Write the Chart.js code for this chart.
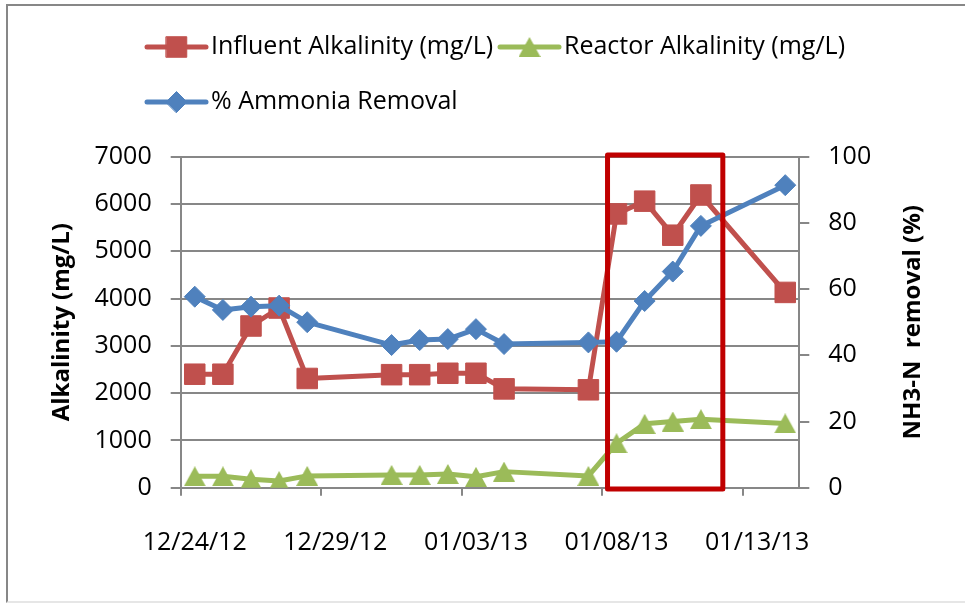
<!DOCTYPE html>
<html>
<head>
<meta charset="utf-8">
<script src="https://cdn.jsdelivr.net/npm/chart.js@4.4.1/dist/chart.umd.min.js"></script>
<style>
html, body { margin:0; padding:0; background:#fff; overflow:hidden; }
#frame { position:absolute; left:6px; top:4px; width:1000px; height:595px; border:2px solid #878787; border-bottom-color:#e6e6e6; }
#wrap { position:absolute; left:0; top:0; width:965px; height:604px; }
</style>
</head>
<body>
<div id="frame"></div>
<div id="wrap"><canvas id="chart1"></canvas></div>
<script>
// one category per day on the date axis
var dayLabels = ['12/24/12','12/25/12','12/26/12','12/27/12','12/28/12','12/29/12','12/30/12','12/31/12',
                 '01/01/13','01/02/13','01/03/13','01/04/13','01/05/13','01/06/13','01/07/13','01/08/13',
                 '01/09/13','01/10/13','01/11/13','01/12/13','01/13/13','01/14/13'];
var dateTickEvery = 5;

// sampling days
var sampleDates = ['12/24/12','12/25/12','12/26/12','12/27/12','12/28/12','12/31/12','01/01/13','01/02/13',
                   '01/03/13','01/04/13','01/07/13','01/08/13','01/09/13','01/10/13','01/11/13','01/14/13'];
var influentAlk    = [2400, 2400, 3420, 3800, 2310, 2390, 2390, 2420, 2420, 2090, 2070, 5790, 6060, 5340, 6190, 4130];
var reactorAlk     = [240, 240, 180, 140, 250, 270, 270, 290, 230, 340, 250, 940, 1350, 1400, 1450, 1360];
var ammoniaRemoval = [57.7, 53.7, 54.7, 55.0, 50.0, 43.1, 44.6, 44.9, 47.9, 43.4, 43.9, 44.1, 56.4, 65.3, 79.1, 91.4];

// axis ranges
var alkAxis = {min: 0, max: 7000, step: 1000};
var pctAxis = {min: 0, max: 100, step: 20};

// red highlight box (day index / mg/L)
var highlightBox = {from: 14.68, to: 18.78, low: -30, high: 7035};

var RED = '#C0504D', GREEN = '#9BBB59', BLUE = '#4F81BD';
var axisGray = '#878787';
var FONT = "'Open Sans', 'Noto Sans', sans-serif";

Chart.defaults.font.family = FONT;
Chart.defaults.color = '#000';

function make_points(values)
{
    var pts = [];
    for (var i = 0; i < sampleDates.length; i++)
    {
        pts.push({x: sampleDates[i], y: values[i]});
    }
    return pts;
}

function triangle_marker(color, w, h)
{
    var c = document.createElement('canvas');
    c.width = w;
    c.height = h;
    var g = c.getContext('2d');
    g.fillStyle = color;
    g.beginPath();
    g.moveTo(w / 2, 0);
    g.lineTo(w, h);
    g.lineTo(0, h);
    g.closePath();
    g.fill();
    return c;
}

function series(label, values, color, axis, style, radius)
{
    return {
        label: label,
        data: make_points(values),
        yAxisID: axis,
        borderColor: color,
        backgroundColor: color,
        borderWidth: 5,
        borderJoinStyle: 'round',
        borderCapStyle: 'round',
        tension: 0,
        pointStyle: style,
        pointRadius: radius,
        pointHoverRadius: radius,
        pointBorderWidth: 1,
        pointBorderColor: color,
        pointBackgroundColor: color
    };
}

var triMark = triangle_marker(GREEN, 22, 20);

// blue drawn on top, then green, then red
var datasets = [
    series('% Ammonia Removal', ammoniaRemoval, BLUE, 'y2', 'rectRot', 10.5),
    series('Reactor Alkalinity (mg/L)', reactorAlk, GREEN, 'y', triMark, 11),
    series('Influent Alkalinity (mg/L)', influentAlk, RED, 'y', 'rect', 14.5)
];

// legend laid out like the Excel one
var legendPos = [
    {ds: 2, x: 147, y: 47},
    {ds: 1, x: 500, y: 47},
    {ds: 0, x: 147, y: 102}
];

var legendPlugin = {
    id: 'excelLegend',
    afterDraw: function (chart)
    {
        var ctx = chart.ctx;
        ctx.save();
        for (var i = 0; i < legendPos.length; i++)
        {
            var it = legendPos[i];
            var ds = chart.data.datasets[it.ds];
            ctx.strokeStyle = ds.borderColor;
            ctx.lineWidth = 5;
            ctx.lineCap = 'round';
            ctx.beginPath();
            ctx.moveTo(it.x, it.y);
            ctx.lineTo(it.x + 59, it.y);
            ctx.stroke();
            ctx.fillStyle = ds.borderColor;
            ctx.lineWidth = 1;
            Chart.helpers.drawPoint(ctx, {pointStyle: ds.pointStyle, radius: ds.pointRadius, rotation: 0, borderWidth: 1}, it.x + 29.5, it.y);
            ctx.fillStyle = '#000';
            ctx.font = '25px ' + FONT;
            ctx.textAlign = 'left';
            ctx.textBaseline = 'middle';
            ctx.fillText(ds.label, it.x + 64, it.y);
        }
        ctx.restore();
    }
};

// axis titles (both read bottom to top)
var titlePlugin = {
    id: 'axisTitles',
    afterDraw: function (chart)
    {
        var ctx = chart.ctx;
        var area = chart.chartArea;
        var cy = (area.top + area.bottom) / 2;
        ctx.save();
        ctx.fillStyle = '#000';
        ctx.font = 'bold 24px ' + FONT;
        ctx.textAlign = 'center';
        ctx.textBaseline = 'middle';
        ctx.translate(62, cy);
        ctx.rotate(-Math.PI / 2);
        ctx.fillText('Alkalinity (mg/L)', 0, 0);
        ctx.restore();
        ctx.save();
        ctx.fillStyle = '#000';
        ctx.font = 'bold 24px ' + FONT;
        ctx.textAlign = 'center';
        ctx.textBaseline = 'middle';
        ctx.translate(913, cy);
        ctx.rotate(-Math.PI / 2);
        ctx.fillText('NH3-N  removal (%)', 0, 0);
        ctx.restore();
    }
};

var boxPlugin = {
    id: 'highlightBox',
    afterDatasetsDraw: function (chart)
    {
        var xs = chart.scales.x, ys = chart.scales.y;
        var x1 = xs.getPixelForValue(highlightBox.from);
        var x2 = xs.getPixelForValue(highlightBox.to);
        var y1 = ys.getPixelForValue(highlightBox.high);
        var y2 = ys.getPixelForValue(highlightBox.low);
        var ctx = chart.ctx;
        ctx.save();
        ctx.strokeStyle = '#C00000';
        ctx.lineWidth = 5;
        ctx.lineJoin = 'round';
        ctx.strokeRect(x1, y1, x2 - x1, y2 - y1);
        ctx.restore();
    }
};

new Chart(document.getElementById('chart1'), {
    type: 'line',
    data: {
        labels: dayLabels,
        datasets: datasets
    },
    options: {
        responsive: true,
        maintainAspectRatio: false,
        animation: false,
        layout: { padding: { top: 156.7, left: 0, right: 0, bottom: 0 } },
        plugins: {
            legend: { display: false },
            tooltip: { enabled: false }
        },
        scales: {
            x: {
                type: 'category',
                offset: true,
                afterFit: function (s) { s.height = 604 - 487.7; },
                grid: {
                    offset: true,
                    drawOnChartArea: false,
                    tickLength: 8,
                    lineWidth: 2,
                    tickColor: function (c) { return c.index % dateTickEvery === 0 ? axisGray : 'rgba(0,0,0,0)'; }
                },
                border: { color: axisGray, width: 2 },
                ticks: {
                    autoSkip: false,
                    maxRotation: 0,
                    padding: 32,
                    font: { size: 25 },
                    callback: function (v, i) { return i % dateTickEvery === 0 ? dayLabels[i] : ''; }
                }
            },
            y: {
                position: 'left',
                min: alkAxis.min,
                max: alkAxis.max,
                afterFit: function (s) { s.width = 180.7; },
                grid: { color: axisGray, lineWidth: 2, tickLength: 10 },
                border: { color: axisGray, width: 2 },
                ticks: {
                    stepSize: alkAxis.step,
                    padding: 19,
                    font: { size: 25 },
                    callback: function (v) { return String(v); }
                }
            },
            y2: {
                position: 'right',
                min: pctAxis.min,
                max: pctAxis.max,
                afterFit: function (s) { s.width = 965 - 799.3; },
                grid: { drawOnChartArea: false, color: axisGray, lineWidth: 2, tickLength: 10 },
                border: { color: axisGray, width: 2 },
                ticks: { stepSize: pctAxis.step, padding: 19, font: { size: 25 } }
            }
        }
    },
    plugins: [boxPlugin, legendPlugin, titlePlugin]
});
</script>
</body>
</html>
